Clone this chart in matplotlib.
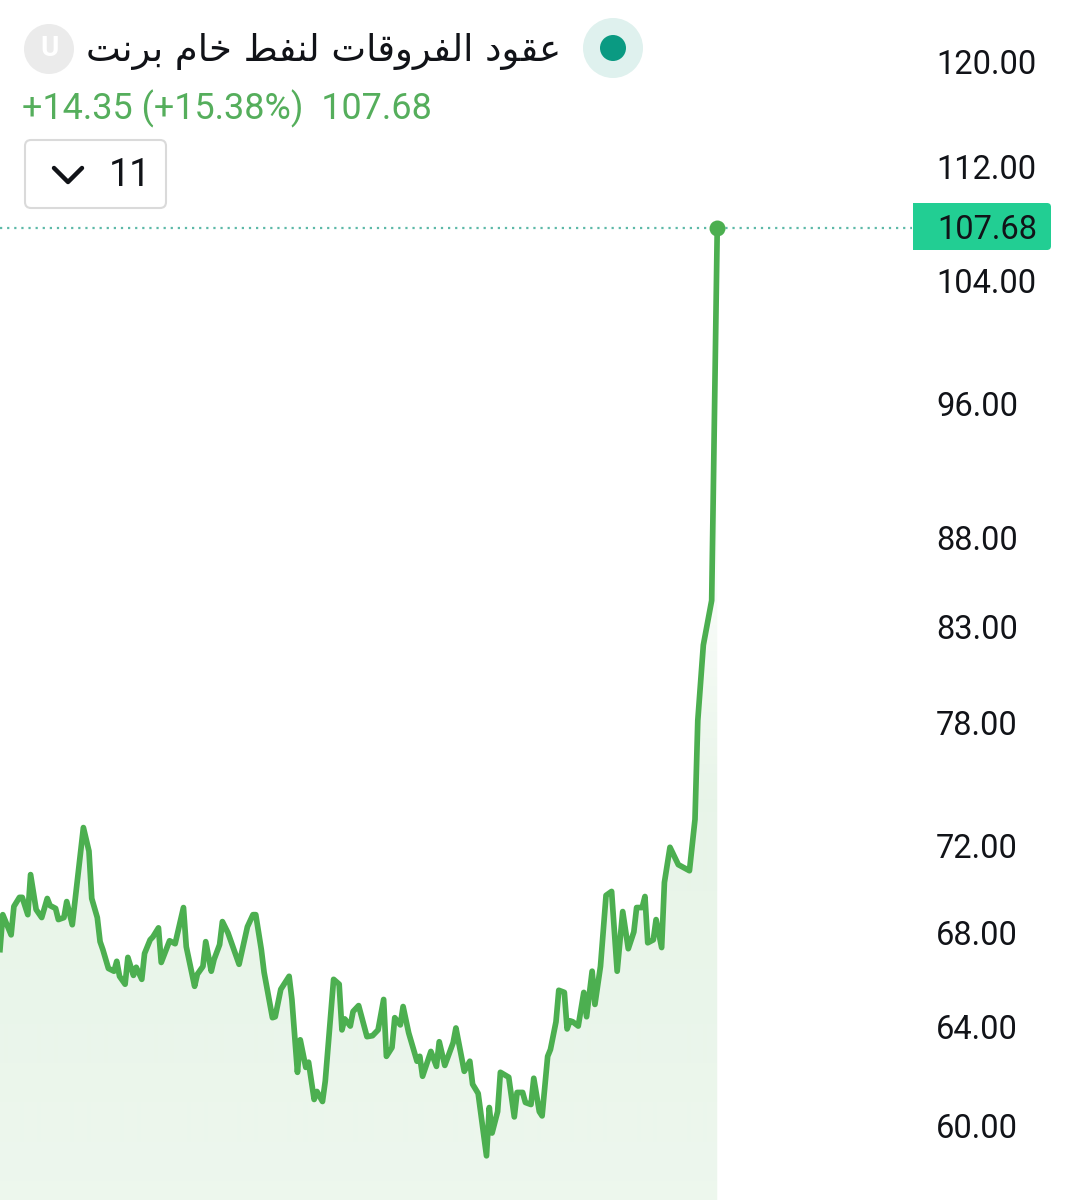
import numpy as np
import matplotlib
matplotlib.use("Agg")
import matplotlib.pyplot as plt
from matplotlib.patches import Circle, FancyBboxPatch
from matplotlib.colors import to_rgb
from matplotlib.transforms import ScaledTranslation

# ---- data ----
days = [0,1,4,5,7,8,10,11,13,15,17,18,20,21,23,24,26,30,32,33,35,36,37,39,41,42,43,45,46,48,49,51,52,54,55,57,58,61,63,66,67,70,71,73,74,76,77,79,80,82,86,89,91,92,94,95,98,99,101,104,105,107,108,110,111,113,114,116,117,120,122,123,124,126,127,129,132,134,136,138,139,141,142,144,145,147,150,151,152,155,157,158,160,163,164,167,169,170,172,175,176,177,179,180,183,185,186,188,189,191,192,194,195,197,198,200,201,203,204,205,206,208,210,211,213,214,216,218,220,222,224,226,228,229,231,232,233,235,236,238,239,241,244,248,250,251,253,256,258]
prices = [67.31,68.86,67.96,69.23,69.64,69.64,68.86,70.68,69.09,68.73,69.59,69.27,69.14,68.64,68.73,69.45,68.41,72.88,71.77,69.59,68.73,67.66,67.31,66.49,66.37,66.80,66.15,65.81,66.97,66.19,66.54,66.02,67.14,67.74,67.87,68.27,66.75,67.70,67.57,69.18,67.44,65.72,66.24,66.58,67.66,66.37,66.88,67.53,68.55,68.05,66.67,68.32,68.86,68.86,67.31,66.32,64.39,64.43,65.59,66.15,65.16,62.14,63.47,62.34,62.55,61.05,61.37,60.97,61.78,66.02,65.81,63.88,64.34,64.04,64.65,64.90,63.60,63.64,63.88,65.16,62.79,63.15,64.39,64.09,64.86,63.76,62.59,62.79,61.98,62.99,62.38,63.39,62.42,63.35,63.96,62.18,62.59,61.66,61.29,58.85,60.73,59.73,60.57,62.14,61.94,60.36,61.33,61.33,60.93,60.85,61.90,60.57,60.40,62.79,63.07,64.22,65.55,65.46,63.92,64.26,64.22,64.04,65.46,64.43,66.37,64.95,66.58,69.73,69.91,66.37,69.00,67.35,68.09,69.18,69.18,69.68,67.61,67.74,68.64,67.40,70.32,71.95,71.14,70.86,73.27,78.14,82.08,84.50,107.68]
y_ticks = [120, 112, 104, 96, 88, 83, 78, 72, 68, 64, 60]
title = "عقود الفروقات لنفط خام برنت"
change_text = "+14.35 (+15.38%)  107.68"
last_label = "107.68"
interval = "11"

# ---- minimal Arabic shaping (matplotlib does not shape) ----
FORMS = {
    'ع': (0xFEC9, 0xFECA, 0xFECB, 0xFECC), 'ق': (0xFED5, 0xFED6, 0xFED7, 0xFED8),
    'و': (0xFEED, 0xFEEE, None, None),     'د': (0xFEA9, 0xFEAA, None, None),
    'ا': (0xFE8D, 0xFE8E, None, None),     'ل': (0xFEDD, 0xFEDE, 0xFEDF, 0xFEE0),
    'ف': (0xFED1, 0xFED2, 0xFED3, 0xFED4), 'ر': (0xFEAD, 0xFEAE, None, None),
    'ت': (0xFE95, 0xFE96, 0xFE97, 0xFE98), 'ن': (0xFEE5, 0xFEE6, 0xFEE7, 0xFEE8),
    'ط': (0xFEC1, 0xFEC2, 0xFEC3, 0xFEC4), 'خ': (0xFEA5, 0xFEA6, 0xFEA7, 0xFEA8),
    'م': (0xFEE1, 0xFEE2, 0xFEE3, 0xFEE4), 'ب': (0xFE8F, 0xFE90, 0xFE91, 0xFE92),
}
def shape(s):
    out = []
    for i, c in enumerate(s):
        if c not in FORMS:
            out.append(c)
            continue
        p = s[i - 1] if i else ' '
        n = s[i + 1] if i + 1 < len(s) else ' '
        join_prev = p in FORMS and FORMS[p][2] is not None
        join_next = n in FORMS and FORMS[c][2] is not None
        f = FORMS[c]
        code = f[3] if join_prev and join_next else f[1] if join_prev else f[2] if join_next else f[0]
        out.append(chr(code))
    return ''.join(reversed(out))

plt.rcParams['font.family'] = ['Roboto', 'DejaVu Sans']
W, H = 1066, 1200
GREEN = '#4CAF50'
INK = '#111318'
fig = plt.figure(figsize=(W / 100, H / 100), dpi=100, facecolor='white')

# background pixel axes holding the gradient
bg = fig.add_axes([0, 0, 1, 1], zorder=0)
bg.set_xlim(0, W); bg.set_ylim(H, 0); bg.axis('off')
rows = np.arange(H)
alpha = np.interp(rows, [228, 600, 800, 1000, 1200], [0.0, 0.04, 0.13, 0.12, 0.10])
rgba = np.ones((H, 1, 4))
rgba[..., :3] = to_rgb(GREEN)
rgba[:, 0, 3] = alpha
grad = bg.imshow(rgba, extent=(0, W, H, 0), aspect='auto', interpolation='bilinear')

# price axes
AX_R = 912
ax = fig.add_axes([0, 0, AX_R / W, 1], zorder=1)
ax.patch.set_visible(False)
ax.set_yscale('log')
ax.set_xlim(0, AX_R / 2.78)
ax.set_ylim(57.18, 124.95)
for s in ax.spines.values():
    s.set_visible(False)
ax.set_xticks([])
ax.set_yticks(y_ticks)
ax.set_yticklabels([f"{v:.2f}" for v in y_ticks])
ax.minorticks_off()
ax.yaxis.tick_right()
ax.tick_params(axis='y', length=0, pad=17.4, labelsize=23.5, labelcolor=INK)
for lab in ax.get_yticklabels():
    lab.set_transform(lab.get_transform() + ScaledTranslation(0, 1 / 100, fig.dpi_scale_trans))

area = ax.fill_between(days, prices, 57.18, facecolor='none', edgecolor='none')
grad.set_clip_path(area.get_paths()[0], transform=ax.transData)

ax.axhline(prices[-1], color='#5DB9A8', lw=1.6, ls=(0, (1, 2.2)), zorder=2)
ax.plot(days, prices, color=GREEN, lw=4.1, solid_joinstyle='round', zorder=3)
ax.plot(days[-1], prices[-1], 'o', color=GREEN, ms=11.5, mew=0, zorder=4)

# overlay in pixel coords for chrome
ov = fig.add_axes([0, 0, 1, 1], zorder=2)
ov.set_xlim(0, W); ov.set_ylim(H, 0); ov.axis('off'); ov.patch.set_visible(False)

ov.add_patch(Circle((49, 49), 25, fc='#EBEBEB', ec='none'))
ov.text(49, 49, 'U', color='white', fontsize=20, fontweight='bold', ha='center', va='center')
ov.add_patch(Circle((613, 48), 30, fc='#DFF1EE', ec='none'))
ov.add_patch(Circle((613, 48), 13, fc='#0A9A82', ec='none'))
ov.text(561, 52, shape(title), family='DejaVu Sans', fontsize=26.6, color=INK, ha='right', va='center')
ov.text(22, 109, change_text, color='#55AE5C', fontsize=25.9, ha='left', va='center')
ov.add_patch(FancyBboxPatch((29, 144), 133, 60, boxstyle='round,pad=4,rounding_size=6', fc='white', ec='#DADADA', lw=1.5))
ov.plot([54, 68, 82], [168, 182, 168], color=INK, lw=3.2, solid_capstyle='round', solid_joinstyle='round')
ov.text(130, 176, interval, color=INK, fontsize=27, ha='center', va='center')
ov.add_patch(FancyBboxPatch((917, 207), 130, 39, boxstyle='round,pad=4,rounding_size=4', fc='#22CE93', ec='none'))
ov.add_patch(plt.Rectangle((913, 203), 10, 47, fc='#22CE93', ec='none'))
ov.text(937, 230, last_label, color=INK, fontsize=23.5, ha='left', va='center')

fig.savefig('out.png', dpi=100)
